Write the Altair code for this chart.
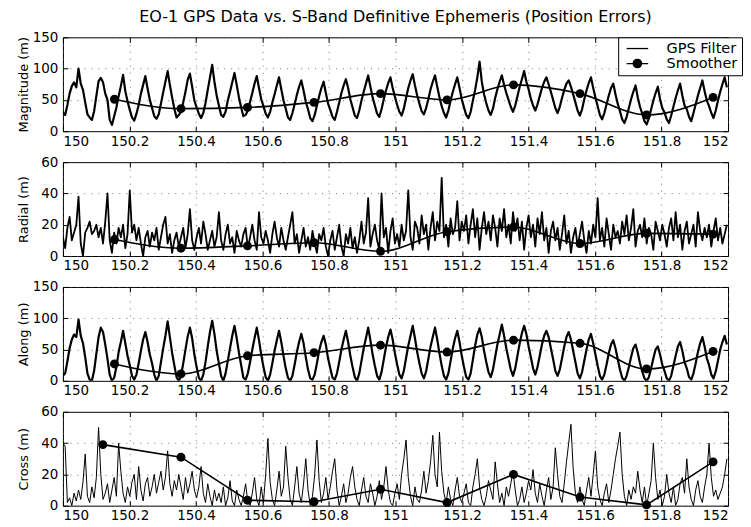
import altair as alt
import pandas as pd

FONT = "DejaVu Sans"
TITLE = "EO-1 GPS Data vs. S-Band Definitive Ephemeris (Position Errors)"
SERIES = ["GPS Filter", "Smoother"]

T0 = 150.0
STEP = 0.0067
XTICKS = [150, 150.2, 150.4, 150.6, 150.8, 151, 151.2, 151.4, 151.6, 151.8, 152]

magnitude = [
    30, 26, 42, 60, 72, 78, 70, 100, 76, 66,
    46, 27, 22, 18, 32, 56, 80, 85, 78, 60,
    50, 18, 10, 24, 38, 56, 72, 90, 64, 48,
    34, 22, 17, 28, 42, 60, 74, 88, 68, 50,
    37, 24, 20, 27, 44, 62, 79, 96, 74, 54,
    36, 22, 26, 31, 46, 63, 82, 92, 71, 49,
    38, 28, 21, 29, 45, 66, 86, 106, 79, 57,
    41, 26, 23, 31, 49, 63, 78, 93, 74, 54,
    38, 24, 26, 33, 47, 61, 76, 88, 69, 51,
    40, 28, 22, 31, 46, 59, 73, 86, 67, 49,
    36, 22, 18, 29, 43, 58, 71, 81, 65, 47,
    35, 21, 16, 26, 41, 56, 69, 79, 61, 44,
    34, 23, 18, 31, 46, 61, 73, 83, 69, 51,
    38, 25, 21, 33, 49, 63, 76, 89, 71, 54,
    41, 28, 23, 35, 51, 65, 77, 86, 69, 55,
    42, 31, 25, 36, 53, 69, 81, 91, 73, 57,
    44, 32, 27, 37, 51, 67, 79, 89, 71, 54,
    40, 29, 22, 33, 49, 63, 75, 86, 69, 51,
    38, 26, 21, 31, 49, 66, 86, 111, 79, 59,
    45, 33, 26, 36, 53, 67, 79, 89, 74, 61,
    50, 39, 31, 41, 56, 71, 83, 96, 79, 67,
    52, 41, 33, 43, 56, 69, 79, 86, 75, 63,
    50, 37, 29, 39, 53, 66, 76, 81, 71, 59,
    46, 33, 25, 35, 51, 65, 77, 86, 69, 54,
    40, 26, 19, 29, 43, 57, 69, 76, 59, 44,
    32, 19, 13, 23, 37, 51, 63, 73, 54, 39,
    28, 16, 11, 21, 35, 49, 61, 71, 51, 37,
    30, 19, 13, 25, 39, 53, 65, 76, 57, 41,
    35, 23, 16, 29, 43, 57, 69, 81, 64, 49,
    40, 29, 21, 33, 49, 63, 75, 86, 70,
]

radial = [
    12, 5, 18, 25, 10, 15, 20, 38, 8, 0,
    15, 18, 22, 14, 16, 20, 12, 18, 8, 22,
    40, 10, 2, 15, 8, 18, 12, 20, 5, 14,
    42, 15, 20, 10, 18, 8, 0, 12, 16, 6,
    15, 10, 18, 4, 12, 20, 25, 8, 14, 2,
    10, 15, 6, 12, 18, 5, 14, 30, 10, 4,
    12, 18, 8, 22, 14, 4, 10, 16, 6, 12,
    28, 10, 4, 14, 20, 8, 12, 2, 16, 10,
    6, 14, 18, 5, 12, 20, 10, 4, 28, 12,
    8, 16, 10, 2, 14, 22, 12, 6, 18, 10,
    4, 12, 20, 28, 8, 14, 2, 10, 18, 6,
    12, 4, 16, 8, 2, 14, 10, 18, 6, 0,
    10, 16, 4, 12, 20, 6, 0, 14, 8, 18,
    5, 12, 2, 10, 22, 8, 15, 37, 6, 14,
    20, 10, 4, 40, 12, 18, 2, 16, 24, 8,
    14, 6, 20, 10, 16, 42, 12, 4, 22, 18,
    8, 26, 14, 20, 4, 18, 28, 10, 22, 16,
    50, 12, 20, 6, 24, 14, 18, 35, 10, 22,
    16, 26, 8, 20, 30, 12, 24, 4, 18, 28,
    14, 22, 10, 26, 18, 6, 24, 16, 30, 12,
    20, 8, 28, 16, 24, 10, 22, 4, 18, 26,
    12, 20, 6, 24, 14, 28, 10, 18, 2, 16,
    22, 10, 18, 4, 14, 26, 8, 16, 2, 12,
    18, 6, 14, 22, 10, 2, 16, 8, 20, 12,
    37, 10, 18, 6, 24, 14, 4, 20, 12, 16,
    8, 22, 14, 26, 10, 18, 30, 6, 16, 20,
    12, 24, 8, 18, 14, 4, 22, 16, 10, 20,
    14, 6, 18, 24, 10, 28, 12, 20, 4, 16,
    22, 8, 14, 20, 6, 28, 16, 10, 18, 12,
    20, 6, 16, 24, 10, 18, 8, 14, 20,
]

along = [
    8, 12, 31, 52, 66, 74, 70, 98, 72, 60,
    38, 12, 2, 0, 16, 43, 70, 85, 78, 58,
    35, 10, 0, 5, 22, 46, 62, 80, 60, 40,
    25, 8, 2, 10, 28, 48, 66, 78, 62, 42,
    28, 10, 0, 8, 30, 52, 72, 95, 70, 45,
    25, 6, 0, 8, 28, 50, 71, 85, 68, 42,
    22, 5, 0, 10, 30, 55, 78, 96, 75, 48,
    28, 8, 0, 12, 32, 52, 72, 88, 68, 45,
    25, 5, 2, 12, 30, 50, 68, 85, 65, 42,
    22, 6, 0, 10, 28, 48, 65, 80, 62, 40,
    20, 5, 0, 8, 26, 46, 62, 75, 60, 38,
    18, 4, 2, 10, 28, 48, 62, 72, 58, 36,
    20, 5, 2, 12, 30, 50, 66, 80, 62, 40,
    22, 6, 0, 12, 32, 52, 68, 85, 65, 42,
    24, 8, 2, 14, 34, 54, 70, 82, 66, 44,
    26, 10, 4, 16, 36, 56, 72, 88, 68, 46,
    28, 12, 4, 15, 35, 55, 70, 85, 66, 44,
    24, 8, 2, 12, 32, 52, 68, 80, 62, 40,
    22, 6, 2, 12, 34, 56, 74, 84, 70, 48,
    30, 14, 6, 18, 38, 58, 74, 90, 72, 52,
    35, 18, 8, 20, 40, 60, 76, 88, 75, 55,
    38, 20, 10, 22, 40, 58, 72, 80, 70, 52,
    35, 16, 8, 18, 36, 55, 70, 78, 66, 48,
    30, 12, 4, 14, 32, 50, 66, 75, 60, 42,
    24, 8, 2, 10, 26, 44, 58, 65, 52, 35,
    18, 5, 0, 8, 22, 38, 52, 58, 45, 28,
    15, 4, 0, 6, 20, 36, 50, 55, 42, 26,
    16, 4, 0, 8, 24, 40, 55, 62, 48, 30,
    20, 6, 2, 12, 28, 46, 60, 70, 55, 36,
    25, 10, 4, 15, 32, 50, 62, 72, 58,
]

cross = [
    40, 38, 2, 5, 0, 8, 3, 10, 4, 15,
    33, 6, 2, 12, 5, 18, 50, 20, 4, 8,
    14, 2, 10, 18, 6, 40, 22, 8, 2, 12,
    6, 15, 20, 4, 25, 10, 3, 14, 18, 6,
    12, 20, 8, 15, 22, 10, 18, 35, 14, 6,
    16, 10, 20, 12, 4, 18, 8, 14, 22, 10,
    5, 12, 25, 8, 2, 14, 6, 0, 10, 3,
    8, 2, 12, 0, 5, 16, 3, 0, 10, 4,
    0, 6, 14, 2, 0, 8, 18, 4, 0, 12,
    2, 20, 43, 15, 4, 0, 10, 22, 6, 12,
    38, 18, 4, 0, 12, 25, 8, 2, 14, 30,
    10, 0, 6, 20, 42, 16, 2, 8, 18, 4,
    12, 22, 30, 10, 0, 6, 14, 2, 8, 18,
    25, 12, 4, 0, 10, 18, 6, 2, 14, 8,
    0, 6, 16, 4, 12, 25, 10, 2, 0, 8,
    14, 4, 20, 30, 42, 18, 6, 0, 12, 4,
    2, 10, 22, 8, 16, 28, 45, 20, 12, 47,
    22, 8, 2, 12, 4, 0, 10, 18, 6, 2,
    8, 14, 2, 0, 12, 20, 30, 12, 4, 0,
    6, 16, 10, 4, 28, 14, 2, 8, 0, 12,
    6, 14, 22, 10, 0, 4, 12, 2, 8, 16,
    10, 23, 8, 2, 14, 6, 0, 10, 18, 4,
    12, 37, 20, 6, 2, 14, 28, 40, 52, 24,
    8, 2, 12, 4, 0, 10, 18, 6, 20, 35,
    12, 4, 0, 8, 14, 2, 10, 20, 30, 38,
    47, 20, 6, 0, 10, 4, 12, 8, 22, 10,
    2, 12, 0, 8, 16, 40, 18, 4, 10, 0,
    6, 20, 8, 2, 12, 0, 4, 14, 18, 8,
    30, 12, 4, 0, 10, 16, 6, 2, 12, 20,
    40, 18, 6, 10, 4, 8, 12, 20, 30,
]

smooth_t = [150.155, 150.355, 150.555, 150.755, 150.955, 151.155, 151.355, 151.555, 151.755, 151.955]
smooth_t_cross = [150.12, 150.355, 150.555, 150.755, 150.955, 151.155, 151.355, 151.555, 151.755, 151.955]
smooth_magnitude = [51, 36, 38, 46, 60, 50, 74, 60, 26, 54]
smooth_radial = [10.5, 5, 6.5, 8.5, 3, 15.5, 18.5, 8, 14.5, 14]
smooth_along = [27, 11, 40, 45, 57, 46, 65, 60, 19, 47]
smooth_cross = [39, 31, 3.5, 2.5, 10.5, 2, 20, 5.5, 0.5, 28]

PATH_LINE = "M-1.8,0L1.8,0"
_rings = "".join(
    "M{r},0A{r},{r},0,1,1,-{r},0A{r},{r},0,1,1,{r},0".format(r=r)
    for r in ["0.7", "0.55", "0.4", "0.25", "0.1"]
)
PATH_SMOOTH = "M-1.8,0L1.8,0" + _rings

W, H = 666, 94


def times(n):
    return [round(T0 + i * STEP, 4) for i in range(n)]


def tick_axis(orient, values):
    return alt.Axis(orient=orient, values=values, offset=-5, labels=False, ticks=True,
                    tickSize=5, tickColor="black", tickWidth=1, domain=False,
                    grid=False, title=None)


def panel(values, s_t, s_v, ytitle, ymax, yticks, width_line, interp, first=False):
    df = pd.DataFrame({"t": times(len(values)), "v": values})
    sdf = pd.DataFrame({"t": s_t, "v": s_v})
    xs = alt.Scale(domain=[150, 152], nice=False, zero=False)
    ys = alt.Scale(domain=[0, ymax], nice=False)
    main = alt.Chart(df).mark_line(color="black", strokeWidth=width_line, clip=True,
                                   strokeJoin="round").encode(
        x=alt.X("t:Q", scale=xs, axis=alt.Axis(orient="bottom", values=XTICKS, format="~g",
                                                title=None, ticks=False, tickSize=0, domain=False,
                                                grid=True, labelPadding=3)),
        y=alt.Y("v:Q", scale=ys, axis=alt.Axis(orient="left", values=yticks, title=ytitle,
                                                ticks=False, tickSize=0, domain=False, grid=True,
                                                labelPadding=5, titleX=-32,
                                                titleBaseline="bottom")),
    )
    sline = alt.Chart(sdf).mark_line(color="black", strokeWidth=1.6, interpolate=interp).encode(
        x=alt.X("t:Q", scale=xs, axis=tick_axis("top", XTICKS)),
        y=alt.Y("v:Q", scale=ys, axis=tick_axis("right", yticks)),
    )
    spts = alt.Chart(sdf).mark_circle(color="black", size=80, opacity=1).encode(
        x=alt.X("t:Q", scale=xs, axis=tick_axis("bottom", XTICKS)),
        y=alt.Y("v:Q", scale=ys, axis=tick_axis("left", yticks)),
    )
    layers = [main, sline, spts]
    if first:
        leg_df = pd.DataFrame({"series": SERIES})
        leg = alt.Chart(leg_df).mark_point(filled=False, opacity=0, color="black",
                                           strokeWidth=1.3).encode(
            shape=alt.Shape("series:N",
                            scale=alt.Scale(domain=SERIES, range=[PATH_LINE, PATH_SMOOTH]),
                            legend=alt.Legend(title=None, orient="none", legendX=556, legendY=0,
                                              symbolSize=144, symbolOffset=8, labelOffset=22,
                                              labelFontSize=14.5, labelFont=FONT, labelColor="black",
                                              padding=4, rowPadding=0, strokeColor="black",
                                              fillColor="white", symbolStrokeWidth=1.3,
                                              symbolStrokeColor="black")),
        )
        layers.append(leg)
    ch = alt.layer(*layers).resolve_axis(x="independent", y="independent").properties(width=W, height=H)
    if first:
        ch = ch.properties(title=alt.TitleParams(text=TITLE, anchor="middle", frame="group",
                                                 fontSize=16, font=FONT, fontWeight="normal",
                                                 color="black", offset=5))
    return ch


p1 = panel(magnitude, smooth_t, smooth_magnitude, "Magnitude (m)", 150, [0, 50, 100, 150], 2.2, "monotone", first=True)
p2 = panel(radial, smooth_t, smooth_radial, "Radial (m)", 60, [0, 20, 40, 60], 1.8, "monotone")
p3 = panel(along, smooth_t, smooth_along, "Along (m)", 150, [0, 50, 100, 150], 2.2, "monotone")
p4 = panel(cross, smooth_t_cross, smooth_cross, "Cross (m)", 60, [0, 20, 40, 60], 1.0, "linear")

chart = alt.vconcat(p1, p2, p3, p4, spacing=6).properties(
    padding={"left": 9, "top": 0, "right": 0, "bottom": 2}
).configure_view(stroke="black", strokeWidth=1).configure_axis(
    labelFont=FONT, labelFontSize=13.5, titleFont=FONT, titleFontSize=13,
    titleFontWeight="normal", labelColor="black", titleColor="black",
    gridColor="#555555", gridDash=[1, 6], gridWidth=1, gridOpacity=0.8,
)

chart.save("out.html", embed_options={"renderer": "svg", "actions": False})
